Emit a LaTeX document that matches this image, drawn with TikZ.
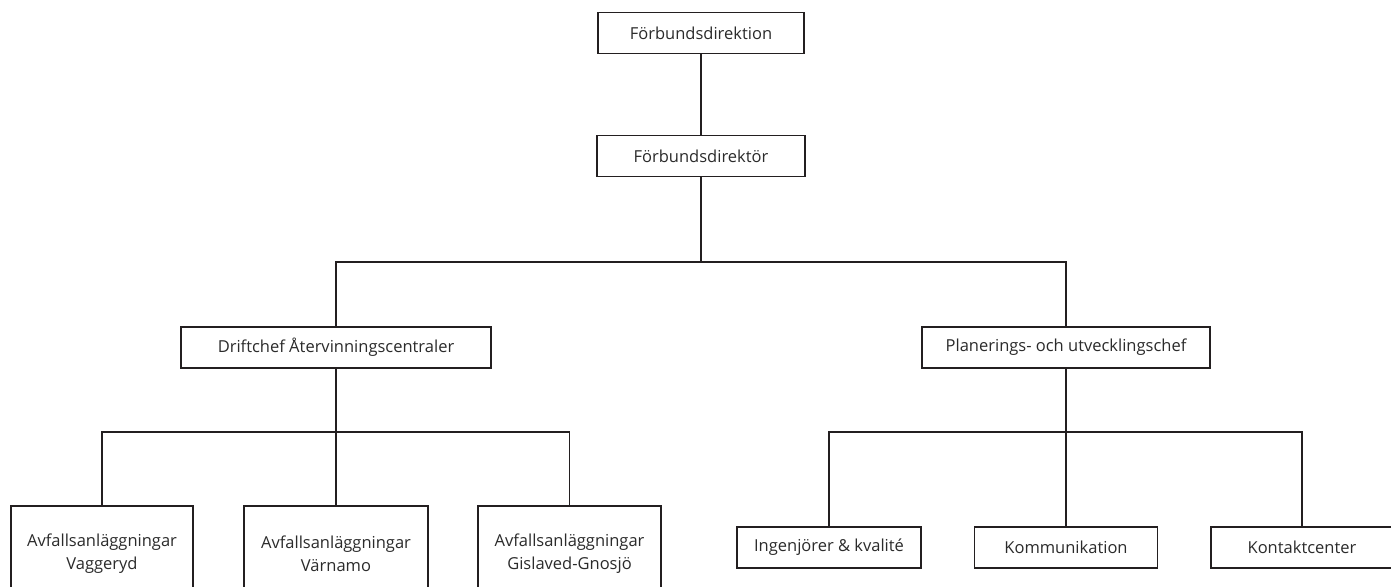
\documentclass[tikz,border=0pt]{standalone}
\usepackage{fontspec}
\setmainfont{Open Sans}
\definecolor{ink}{HTML}{231F20}
\definecolor{txt}{HTML}{2B2B2B}
\tikzset{
  orgbox/.style={draw=ink, line width=1.4pt, fill=white, inner sep=0pt,
    minimum height=41pt, text=txt, font=\fontsize{16.5}{23}\selectfont, align=center},
  orgline/.style={draw=ink, line width=1.4pt}
}

\begin{document}
\begin{tikzpicture}[x=1pt, y=-1pt]
\clip (0,0) rectangle (1391,586);
\fill[white] (0,0) rectangle (1391,586);
% Top level
\node[orgbox, minimum width=206pt] (direktion) at (701,33) {Förbundsdirektion};
\node[orgbox, minimum width=208pt] (direktor) at (701,156) {Förbundsdirektör};
\draw[orgline] (direktion.south) -- (direktor.north);
% Second level and connecting lines
\node[orgbox, minimum width=310pt] (drift) at (336,347.5) {Driftchef Återvinningscentraler};
\node[orgbox, minimum width=288pt] (plan) at (1066,347.5) {Planerings- och utvecklingschef};
\coordinate (j1) at (701,262);
\draw[orgline] (direktor.south) -- (j1);
\draw[orgline] (drift.north) |- (j1) -| (plan.north);
% Avfallsanläggningar and connecting lines
\node[orgbox, minimum width=182pt, minimum height=96pt] (vaggeryd) at (102,554) {Avfallsanläggningar\\Vaggeryd};
\node[orgbox, minimum width=184pt, minimum height=96pt] (varnamo) at (336,554) {Avfallsanläggningar\\Värnamo};
\node[orgbox, minimum width=183pt, minimum height=96pt] (gislaved) at (569.5,554) {Avfallsanläggningar\\Gislaved-Gnosjö};
\coordinate (j2) at (336,432);
\draw[orgline] (drift.south) -- (varnamo.north);
\draw[orgline] (vaggeryd.north) |- (j2) -| (gislaved.north);
% Planering and connecting lines
\node[orgbox, minimum width=184pt] (ingenjor) at (829,547.5) {Ingenjörer \& kvalité};
\node[orgbox, minimum width=183pt] (kommunikation) at (1066,547.5) {Kommunikation};
\node[orgbox, minimum width=182pt] (kontakt) at (1302,547.5) {Kontaktcenter};
\coordinate (j3) at (1066,432);
\draw[orgline] (plan.south) -- (kommunikation.north);
\draw[orgline] (ingenjor.north) |- (j3) -| (kontakt.north);
\end{tikzpicture}
\end{document}
